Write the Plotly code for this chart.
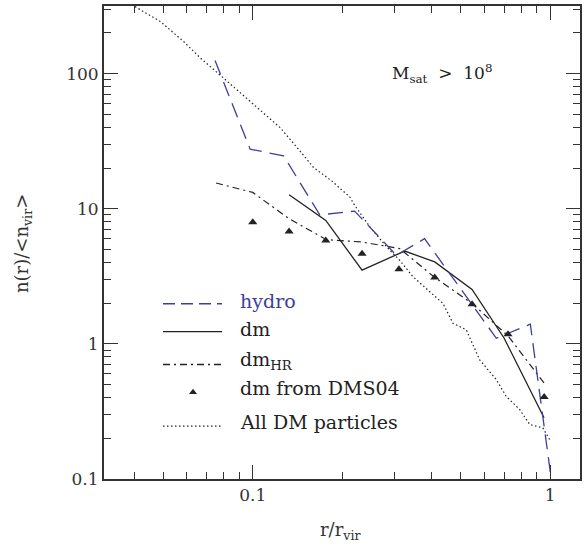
import plotly.graph_objects as go

# Radial number-density profiles of satellites, normalised to the mean inside r_vir
hydro_r = [0.0747, 0.098, 0.127, 0.168, 0.22, 0.304, 0.378, 0.659, 0.857, 1.031]
hydro_n = [124.8, 27.6, 24.6, 9.0, 9.6, 4.52, 6.0, 1.10, 1.40, 0.069]

dm_r = [0.1325, 0.176, 0.233, 0.324, 0.409, 0.546, 0.70, 0.953]
dm_n = [12.7, 8.19, 3.51, 4.86, 4.04, 2.53, 1.10, 0.284]

dmhr_r = [0.0753, 0.1, 0.1325, 0.177, 0.233, 0.312, 0.409, 0.546, 0.72, 0.953]
dmhr_n = [15.5, 13.2, 8.43, 5.9, 5.67, 5.07, 3.1, 1.99, 1.15, 0.513]

dms04_r = [0.1, 0.1325, 0.176, 0.233, 0.31, 0.409, 0.546, 0.721, 0.954]
dms04_n = [7.95, 6.79, 5.83, 4.65, 3.57, 3.10, 1.96, 1.18, 0.405]

all_r = [0.0402, 0.0489, 0.0585, 0.0666, 0.0796, 0.098, 0.1236, 0.144, 0.16,
         0.184, 0.212, 0.22, 0.248, 0.282, 0.312, 0.346, 0.398, 0.436, 0.471,
         0.522, 0.579, 0.659, 0.711, 0.789, 0.853, 0.944, 0.995]
all_n = [313, 243, 173, 130.6, 93, 62.6, 39.8, 26.8, 20.2,
         16.1, 12.2, 10.6, 7.31, 5.21, 4.15, 3.13, 2.36, 1.99, 1.42,
         1.27, 0.762, 0.543, 0.409, 0.327, 0.253, 0.239, 0.196]

x_ticks = [0.1, 1]
x_ticklabels = ["0.1", "1"]
y_ticks = [0.1, 1, 10, 100]
y_ticklabels = ["0.1", "1", "10", "100"]

BLUE = "#3d3f9c"
INK = "#222222"
FONT = "DejaVu Serif"

HYDRO_DASH = "15px,8px"
DMHR_DASH = "7px,4px,2px,4px"
DOT_DASH = "1.5px,2.5px"

fig = go.Figure()
fig.add_trace(go.Scatter(x=all_r, y=all_n, mode="lines",
                         line=dict(color=INK, width=1.2, dash=DOT_DASH)))
fig.add_trace(go.Scatter(x=dmhr_r, y=dmhr_n, mode="lines",
                         line=dict(color=INK, width=1.2, dash=DMHR_DASH)))
fig.add_trace(go.Scatter(x=dm_r, y=dm_n, mode="lines",
                         line=dict(color=INK, width=1.3)))
fig.add_trace(go.Scatter(x=hydro_r, y=hydro_n, mode="lines",
                         line=dict(color=BLUE, width=1.3, dash=HYDRO_DASH)))
fig.add_trace(go.Scatter(x=dms04_r, y=dms04_n, mode="markers",
                         marker=dict(symbol="triangle-up", size=8, color=INK,
                                     line=dict(width=0))))

# plot-area geometry in pixels, used to place the hand-drawn key and titles
L, R, T, B = 104, 7, 4, 72
W, H = 587, 551
PW, PH = W - L - R, H - T - B


def px(xp):
    return (xp - L) / PW


def py(yp):
    return (H - B - yp) / PH


key = [
    ("hydro", BLUE, "12px,6px", 303, 300),
    ("dm", INK, "solid", 331, 328),
    ("dm<sub>HR</sub>", INK, DMHR_DASH, 364, 360),
    ("dm from DMS04", INK, None, 392, 388),
    ("All DM particles", INK, DOT_DASH, 426, 422),
]
shapes = []
annotations = []
for label, col, dash, ys, yt in key:
    if dash is not None:
        shapes.append(dict(type="line", xref="paper", yref="paper",
                           x0=px(163), x1=px(222), y0=py(ys), y1=py(ys),
                           line=dict(color=col, width=1.3, dash=dash)))
    annotations.append(dict(text=label, xref="paper", yref="paper",
                            x=px(238), y=py(yt), xanchor="left", yanchor="middle",
                            showarrow=False,
                            font=dict(family=FONT, size=19, color=col)))

fig.add_trace(go.Scatter(x=[px(193)], y=[py(392)], xaxis="x2", yaxis="y2",
                         mode="markers",
                         marker=dict(symbol="triangle-up", size=7, color=INK,
                                     line=dict(width=0))))

annotations.append(dict(text="M<sub>sat</sub>  &gt;  10<sup>8</sup>",
                        xref="paper", yref="paper", x=px(390), y=py(72),
                        xanchor="left", yanchor="middle", showarrow=False,
                        font=dict(family=FONT, size=17, color=INK)))

# axis titles
annotations.append(dict(text="r/r<sub>vir</sub>", xref="paper", yref="paper",
                        x=px(340), y=py(531), xanchor="center", yanchor="middle",
                        showarrow=False,
                        font=dict(family=FONT, size=18, color="#333")))
annotations.append(dict(text="n(r)/&lt;n<sub>vir</sub>&gt;", xref="paper",
                        yref="paper", x=px(23), y=py(243), textangle=-90,
                        xanchor="center", yanchor="middle", showarrow=False,
                        font=dict(family=FONT, size=18, color="#333")))

axis_common = dict(
    type="log", showline=True, linecolor="#333", linewidth=2, mirror="ticks",
    ticks="inside", ticklen=14, tickwidth=1.3, tickcolor="#333",
    showgrid=False, zeroline=False,
    tickfont=dict(family=FONT, size=17, color="#333"),
)

fig.update_layout(
    width=W, height=H,
    margin=dict(l=L, r=R, t=T, b=B),
    paper_bgcolor="white", plot_bgcolor="white",
    showlegend=False,
    xaxis=dict(range=[-1.5, 0.1], tickvals=x_ticks, ticktext=x_ticklabels,
               minor=dict(tickvals=[0.04, 0.05, 0.06, 0.07, 0.08, 0.09,
                                    0.2, 0.3, 0.4, 0.5, 0.6, 0.7, 0.8, 0.9],
                          ticks="inside", ticklen=7, tickwidth=1.2,
                          tickcolor="#333", showgrid=False),
               **axis_common),
    yaxis=dict(range=[-1, 2.5], tickvals=y_ticks, ticktext=y_ticklabels,
               minor=dict(tickvals=[0.2, 0.3, 0.4, 0.5, 0.6, 0.7, 0.8, 0.9,
                                    2, 3, 4, 5, 6, 7, 8, 9,
                                    20, 30, 40, 50, 60, 70, 80, 90, 200, 300],
                          ticks="inside", ticklen=7, tickwidth=1.2,
                          tickcolor="#333", showgrid=False),
               **axis_common),
    xaxis2=dict(range=[0, 1], visible=False, overlaying="x", domain=[0, 1]),
    yaxis2=dict(range=[0, 1], visible=False, overlaying="y", domain=[0, 1],
                anchor="x2"),
    shapes=shapes,
    annotations=annotations,
)

fig.write_html("out.html")
